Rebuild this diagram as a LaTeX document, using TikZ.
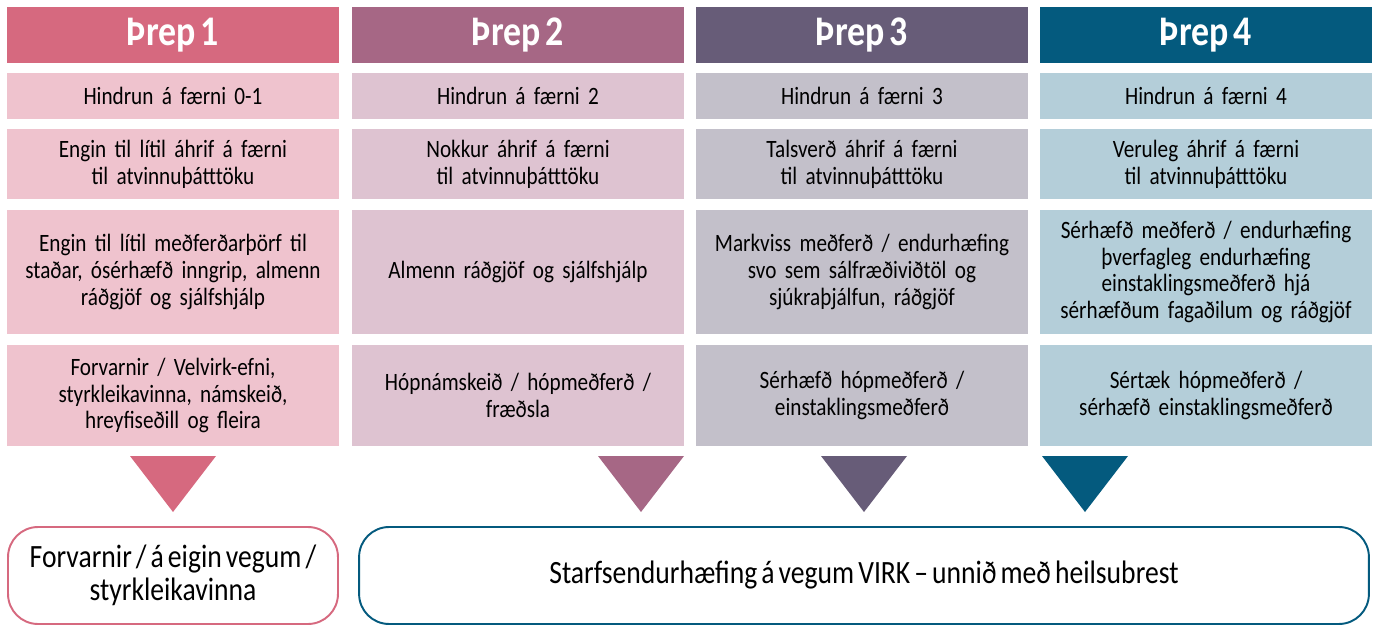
\documentclass[tikz,border=0pt]{standalone}
\usepackage{fontspec}
\setmainfont{Carlito}[FakeStretch=0.85, WordSpace=0.65]

\definecolor{dark1}{HTML}{D6697F}
\definecolor{dark2}{HTML}{A66785}
\definecolor{dark3}{HTML}{675C78}
\definecolor{dark4}{HTML}{045A7E}
\definecolor{light1}{HTML}{EFC3CE}
\definecolor{light2}{HTML}{DEC3D1}
\definecolor{light3}{HTML}{C3C0CA}
\definecolor{light4}{HTML}{B4CED9}

\begin{document}
\begin{tikzpicture}[x=0.02cm, y=-0.02cm,
    head/.style={fill=#1, text=white, font=\fontsize{24}{26}\selectfont\bfseries,
      minimum width=6.64cm, minimum height=1.12cm, inner sep=0pt},
    cell/.style={fill=#1, text=black, font=\fontsize{14.2}{15.2}\selectfont,
      align=center, text width=6.64cm, inner sep=0pt},
    goal/.style={draw=#1, line width=1.1pt, rounded corners=0.6cm, fill=white,
      font=\fontsize{18.5}{18.5}\selectfont, align=center, minimum height=1.94cm, inner sep=0pt}]
    \useasboundingbox (0,0) rectangle (1376,628);

    % headers and first row
    \foreach \i/\c/\h in {1/173/0-1, 2/518/2, 3/862/3, 4/1206/4}{
      \node[head=dark\i] (h\i) at (\c,35) {Þrep \i};
      \node[cell=light\i, minimum height=0.92cm] (a\i) at (\c,96) {Hindrun á færni \h};
    }

    % second row
    \node[cell=light1, minimum height=1.4cm] (b1) at (173,164) {Engin til lítil áhrif á færni\\til atvinnuþátttöku};
    \node[cell=light2, minimum height=1.4cm] (b2) at (518,164) {Nokkur áhrif á færni\\til atvinnuþátttöku};
    \node[cell=light3, minimum height=1.4cm] (b3) at (862,164) {Talsverð áhrif á færni\\til atvinnuþátttöku};
    \node[cell=light4, minimum height=1.4cm] (b4) at (1206,164) {Veruleg áhrif á færni\\til atvinnuþátttöku};

    % third row
    \node[cell=light1, minimum height=2.48cm] (c1) at (173,272) {Engin til lítil meðferðarþörf til\\staðar, ósérhæfð inngrip, almenn\\ráðgjöf og sjálfshjálp};
    \node[cell=light2, minimum height=2.48cm] (c2) at (518,272) {Almenn ráðgjöf og sjálfshjálp};
    \node[cell=light3, minimum height=2.48cm] (c3) at (862,272) {Markviss meðferð / endurhæfing\\svo sem sálfræðiviðtöl og\\sjúkraþjálfun, ráðgjöf};
    \node[cell=light4, minimum height=2.48cm] (c4) at (1206,272) {Sérhæfð meðferð / endurhæfing\\þverfagleg endurhæfing\\einstaklingsmeðferð hjá\\sérhæfðum fagaðilum og ráðgjöf};

    % fourth row
    \node[cell=light1, minimum height=2.02cm] (d1) at (173,395.5) {Forvarnir / Velvirk-efni,\\styrkleikavinna, námskeið,\\hreyfiseðill og fleira};
    \node[cell=light2, minimum height=2.02cm] (d2) at (518,395.5) {Hópnámskeið / hópmeðferð /\\fræðsla};
    \node[cell=light3, minimum height=2.02cm] (d3) at (862,395.5) {Sérhæfð hópmeðferð /\\einstaklingsmeðferð};
    \node[cell=light4, minimum height=2.02cm] (d4) at (1206,395.5) {Sértæk hópmeðferð /\\sérhæfð einstaklingsmeðferð};

    % pointers
    \fill[dark1] (130,456) -- (216,456) -- (173,512) -- cycle;
    \fill[dark2] (598,456) -- (684,456) -- (641,512) -- cycle;
    \fill[dark3] (821,456) -- (907,456) -- (864,512) -- cycle;
    \fill[dark4] (1042,456) -- (1128,456) -- (1085,512) -- cycle;

    % outcomes
    \node[goal=dark1, minimum width=6.6cm] (own) at (173,575.5) {Forvarnir / á eigin vegum /\\styrkleikavinna};
    \node[goal=dark4, minimum width=20.2cm] (virk) at (864,575.5) {Starfsendurhæfing á vegum VIRK -- unnið með heilsubrest};
\end{tikzpicture}
\end{document}
